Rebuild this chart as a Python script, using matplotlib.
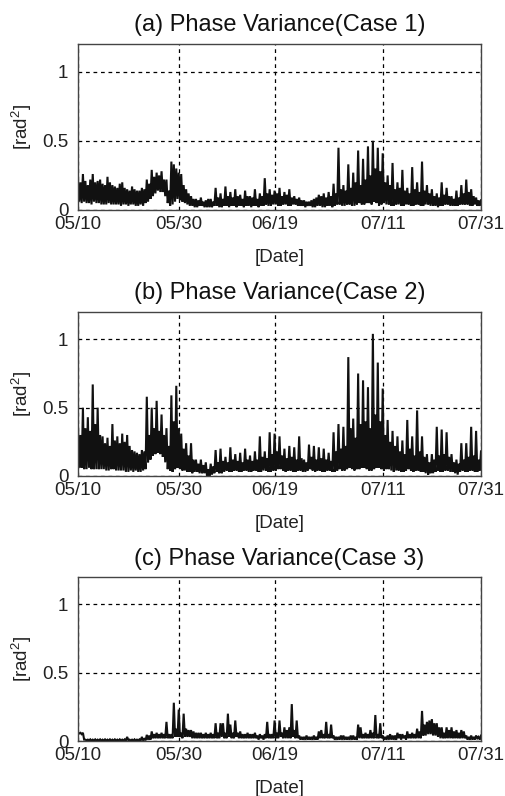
import numpy as np
import matplotlib
matplotlib.use("Agg")
import matplotlib.pyplot as plt

plt.rcParams['font.family'] = ['Liberation Sans', 'DejaVu Sans']
plt.rcParams['mathtext.fontset'] = 'custom'
plt.rcParams['mathtext.rm'] = 'Liberation Sans'
plt.rcParams['mathtext.default'] = 'regular'

# ---- data (phase variance, rad^2), sampled every 0.25 day from 05/10 ----
step_days = 0.25

case1 = [
    0.22, 0.06, 0.20, 0.05, 0.26, 0.06, 0.21, 0.05,   # day 0-1
    0.18, 0.05, 0.22, 0.04, 0.26, 0.06, 0.20, 0.05,   # 2-3
    0.21, 0.05, 0.22, 0.04, 0.19, 0.04, 0.18, 0.04,   # 4-5
    0.24, 0.05, 0.20, 0.04, 0.18, 0.04, 0.17, 0.04,   # 6-7
    0.16, 0.04, 0.19, 0.03, 0.20, 0.04, 0.16, 0.04,   # 8-9
    0.15, 0.03, 0.14, 0.04, 0.17, 0.04, 0.15, 0.03,   # 10-11
    0.14, 0.03, 0.14, 0.04, 0.16, 0.03, 0.15, 0.05,   # 12-13
    0.22, 0.06, 0.19, 0.08, 0.29, 0.10, 0.24, 0.12,   # 14-15
    0.27, 0.14, 0.25, 0.13, 0.28, 0.13, 0.22, 0.10,   # 16-17
    0.22, 0.05, 0.14, 0.03, 0.35, 0.04, 0.33, 0.06,   # 18-19
    0.30, 0.08, 0.27, 0.07, 0.26, 0.06, 0.18, 0.05,   # 20-21
    0.15, 0.04, 0.12, 0.03, 0.10, 0.03, 0.08, 0.02,   # 22-23
    0.08, 0.02, 0.07, 0.03, 0.09, 0.03, 0.06, 0.02,   # 24-25
    0.07, 0.02, 0.08, 0.02, 0.08, 0.02, 0.06, 0.03,   # 26-27
    0.16, 0.03, 0.09, 0.02, 0.12, 0.02, 0.08, 0.03,   # 28-29
    0.17, 0.03, 0.10, 0.02, 0.13, 0.03, 0.09, 0.03,   # 30-31
    0.15, 0.02, 0.10, 0.03, 0.11, 0.03, 0.08, 0.02,   # 32-33
    0.14, 0.03, 0.10, 0.03, 0.10, 0.02, 0.09, 0.03,   # 34-35
    0.15, 0.03, 0.08, 0.02, 0.12, 0.03, 0.10, 0.03,   # 36-37
    0.23, 0.04, 0.12, 0.03, 0.15, 0.03, 0.11, 0.04,   # 38-39
    0.14, 0.04, 0.12, 0.03, 0.16, 0.03, 0.10, 0.04,   # 40-41
    0.13, 0.04, 0.11, 0.03, 0.15, 0.03, 0.09, 0.04,   # 42-43
    0.10, 0.04, 0.08, 0.03, 0.09, 0.03, 0.07, 0.03,   # 44-45
    0.07, 0.02, 0.06, 0.03, 0.06, 0.03, 0.07, 0.02,   # 46-47
    0.08, 0.02, 0.09, 0.03, 0.11, 0.03, 0.10, 0.02,   # 48-49
    0.12, 0.02, 0.09, 0.03, 0.13, 0.03, 0.10, 0.02,   # 50-51
    0.19, 0.03, 0.12, 0.04, 0.45, 0.04, 0.15, 0.03,   # 52-53
    0.18, 0.03, 0.14, 0.04, 0.33, 0.04, 0.16, 0.03,   # 54-55
    0.27, 0.03, 0.20, 0.04, 0.43, 0.05, 0.18, 0.04,   # 56-57
    0.37, 0.04, 0.22, 0.05, 0.46, 0.05, 0.25, 0.04,   # 58-59
    0.50, 0.06, 0.30, 0.05, 0.45, 0.03, 0.28, 0.04,   # 60-61
    0.41, 0.05, 0.20, 0.04, 0.25, 0.04, 0.18, 0.03,   # 62-63
    0.34, 0.03, 0.15, 0.04, 0.20, 0.04, 0.16, 0.03,   # 64-65
    0.29, 0.03, 0.14, 0.04, 0.16, 0.04, 0.12, 0.03,   # 66-67
    0.31, 0.03, 0.15, 0.04, 0.20, 0.04, 0.13, 0.03,   # 68-69
    0.35, 0.03, 0.14, 0.04, 0.18, 0.04, 0.12, 0.03,   # 70-71
    0.15, 0.03, 0.10, 0.03, 0.12, 0.02, 0.09, 0.03,   # 72-73
    0.20, 0.03, 0.11, 0.04, 0.16, 0.04, 0.10, 0.03,   # 74-75
    0.10, 0.03, 0.08, 0.03, 0.14, 0.03, 0.09, 0.04,   # 76-77
    0.18, 0.04, 0.12, 0.04, 0.22, 0.04, 0.13, 0.03,   # 78-79
    0.15, 0.03, 0.10, 0.04, 0.09, 0.03, 0.07, 0.03,   # 80-81
    0.07,                                             # 82
]

case2 = [
    0.36, 0.06, 0.30, 0.06, 0.50, 0.05, 0.35, 0.05,   # day 0-1
    0.43, 0.06, 0.33, 0.05, 0.67, 0.05, 0.38, 0.05,   # 2-3
    0.50, 0.05, 0.30, 0.05, 0.29, 0.05, 0.24, 0.04,   # 4-5
    0.28, 0.04, 0.22, 0.05, 0.38, 0.05, 0.26, 0.04,   # 6-7
    0.29, 0.04, 0.24, 0.04, 0.31, 0.04, 0.25, 0.03,   # 8-9
    0.30, 0.03, 0.22, 0.04, 0.19, 0.03, 0.18, 0.04,   # 10-11
    0.17, 0.03, 0.16, 0.03, 0.19, 0.04, 0.18, 0.05,   # 12-13
    0.58, 0.10, 0.30, 0.12, 0.50, 0.15, 0.35, 0.16,   # 14-15
    0.55, 0.17, 0.33, 0.16, 0.45, 0.14, 0.30, 0.10,   # 16-17
    0.35, 0.05, 0.22, 0.04, 0.59, 0.03, 0.40, 0.05,   # 18-19
    0.66, 0.06, 0.35, 0.05, 0.31, 0.04, 0.20, 0.04,   # 20-21
    0.24, 0.03, 0.15, 0.03, 0.24, 0.02, 0.12, 0.03,   # 22-23
    0.12, 0.03, 0.09, 0.02, 0.12, 0.02, 0.08, 0.02,   # 24-25
    0.10, 0.00, 0.05, 0.00, 0.09, 0.01, 0.07, 0.02,   # 26-27
    0.19, 0.03, 0.10, 0.02, 0.20, 0.02, 0.11, 0.03,   # 28-29
    0.14, 0.04, 0.10, 0.03, 0.21, 0.03, 0.12, 0.04,   # 30-31
    0.16, 0.04, 0.11, 0.03, 0.17, 0.03, 0.10, 0.04,   # 32-33
    0.20, 0.04, 0.12, 0.03, 0.15, 0.03, 0.11, 0.04,   # 34-35
    0.18, 0.04, 0.12, 0.03, 0.29, 0.03, 0.14, 0.04,   # 36-37
    0.18, 0.04, 0.13, 0.03, 0.32, 0.03, 0.16, 0.04,   # 38-39
    0.31, 0.04, 0.18, 0.05, 0.29, 0.05, 0.15, 0.04,   # 40-41
    0.20, 0.03, 0.13, 0.04, 0.22, 0.04, 0.14, 0.03,   # 42-43
    0.21, 0.03, 0.12, 0.04, 0.29, 0.04, 0.13, 0.03,   # 44-45
    0.12, 0.03, 0.10, 0.04, 0.23, 0.05, 0.14, 0.04,   # 46-47
    0.22, 0.03, 0.12, 0.04, 0.21, 0.04, 0.13, 0.03,   # 48-49
    0.20, 0.03, 0.12, 0.04, 0.17, 0.04, 0.11, 0.03,   # 50-51
    0.32, 0.03, 0.18, 0.04, 0.38, 0.05, 0.20, 0.04,   # 52-53
    0.36, 0.04, 0.22, 0.05, 0.87, 0.06, 0.35, 0.05,   # 54-55
    0.42, 0.04, 0.28, 0.05, 0.75, 0.05, 0.38, 0.06,   # 56-57
    0.70, 0.06, 0.40, 0.05, 0.65, 0.04, 0.35, 0.04,   # 58-59
    1.04, 0.05, 0.45, 0.06, 0.83, 0.06, 0.40, 0.05,   # 60-61
    0.64, 0.04, 0.30, 0.05, 0.41, 0.05, 0.25, 0.04,   # 62-63
    0.33, 0.03, 0.22, 0.04, 0.29, 0.04, 0.18, 0.03,   # 64-65
    0.26, 0.03, 0.16, 0.04, 0.41, 0.05, 0.20, 0.04,   # 66-67
    0.29, 0.03, 0.15, 0.04, 0.48, 0.04, 0.18, 0.03,   # 68-69
    0.29, 0.03, 0.14, 0.02, 0.16, 0.01, 0.10, 0.02,   # 70-71
    0.16, 0.02, 0.12, 0.03, 0.36, 0.04, 0.15, 0.03,   # 72-73
    0.34, 0.03, 0.16, 0.04, 0.32, 0.04, 0.14, 0.03,   # 74-75
    0.16, 0.03, 0.10, 0.02, 0.12, 0.01, 0.09, 0.03,   # 76-77
    0.24, 0.04, 0.12, 0.03, 0.24, 0.03, 0.14, 0.04,   # 78-79
    0.36, 0.04, 0.15, 0.03, 0.33, 0.03, 0.12, 0.04,   # 80-81
    0.18,                                             # 82
]

case3 = [
    0.060, 0.055, 0.060, 0.050, 0.060, 0.010, 0.010, 0.005,   # day 0-1
    0.010, 0.003, 0.012, 0.003, 0.010, 0.003, 0.012, 0.003,   # 2-3
    0.010, 0.003, 0.012, 0.003, 0.010, 0.003, 0.012, 0.003,   # 4-5
    0.010, 0.003, 0.012, 0.003, 0.010, 0.003, 0.012, 0.003,   # 6-7
    0.010, 0.003, 0.012, 0.003, 0.010, 0.003, 0.012, 0.003,   # 8-9
    0.030, 0.005, 0.010, 0.003, 0.010, 0.003, 0.012, 0.003,   # 10-11
    0.010, 0.003, 0.012, 0.003, 0.030, 0.005, 0.015, 0.005,   # 12-13
    0.045, 0.010, 0.040, 0.010, 0.070, 0.020, 0.050, 0.020,   # 14-15
    0.060, 0.020, 0.050, 0.020, 0.060, 0.020, 0.050, 0.020,   # 16-17
    0.140, 0.020, 0.050, 0.020, 0.050, 0.020, 0.280, 0.030,   # 18-19
    0.090, 0.030, 0.230, 0.030, 0.060, 0.020, 0.200, 0.030,   # 20-21
    0.090, 0.030, 0.080, 0.030, 0.080, 0.020, 0.070, 0.020,   # 22-23
    0.060, 0.020, 0.060, 0.020, 0.060, 0.020, 0.050, 0.020,   # 24-25
    0.060, 0.020, 0.050, 0.020, 0.060, 0.020, 0.050, 0.020,   # 26-27
    0.130, 0.020, 0.060, 0.020, 0.130, 0.030, 0.130, 0.020,   # 28-29
    0.060, 0.020, 0.200, 0.030, 0.120, 0.020, 0.060, 0.020,   # 30-31
    0.150, 0.030, 0.060, 0.020, 0.070, 0.020, 0.050, 0.020,   # 32-33
    0.050, 0.020, 0.060, 0.020, 0.050, 0.020, 0.050, 0.020,   # 34-35
    0.060, 0.020, 0.040, 0.010, 0.050, 0.020, 0.040, 0.010,   # 36-37
    0.050, 0.020, 0.140, 0.020, 0.050, 0.020, 0.050, 0.020,   # 38-39
    0.150, 0.020, 0.060, 0.020, 0.150, 0.030, 0.060, 0.020,   # 40-41
    0.100, 0.020, 0.080, 0.020, 0.100, 0.020, 0.270, 0.030,   # 42-43
    0.080, 0.020, 0.150, 0.020, 0.040, 0.010, 0.030, 0.010,   # 44-45
    0.030, 0.010, 0.040, 0.010, 0.030, 0.010, 0.030, 0.010,   # 46-47
    0.040, 0.010, 0.030, 0.010, 0.070, 0.020, 0.080, 0.020,   # 48-49
    0.050, 0.020, 0.140, 0.020, 0.050, 0.020, 0.120, 0.020,   # 50-51
    0.040, 0.010, 0.030, 0.010, 0.030, 0.010, 0.040, 0.010,   # 52-53
    0.040, 0.010, 0.030, 0.010, 0.030, 0.010, 0.040, 0.010,   # 54-55
    0.040, 0.010, 0.030, 0.010, 0.120, 0.020, 0.100, 0.020,   # 56-57
    0.050, 0.020, 0.060, 0.020, 0.050, 0.020, 0.080, 0.020,   # 58-59
    0.060, 0.020, 0.190, 0.020, 0.050, 0.020, 0.130, 0.020,   # 60-61
    0.040, 0.010, 0.030, 0.010, 0.040, 0.010, 0.050, 0.010,   # 62-63
    0.040, 0.010, 0.040, 0.010, 0.060, 0.020, 0.050, 0.010,   # 64-65
    0.050, 0.020, 0.040, 0.010, 0.070, 0.020, 0.050, 0.020,   # 66-67
    0.060, 0.020, 0.050, 0.020, 0.090, 0.020, 0.070, 0.020,   # 68-69
    0.220, 0.040, 0.120, 0.040, 0.140, 0.050, 0.150, 0.050,   # 70-71
    0.160, 0.040, 0.130, 0.040, 0.130, 0.030, 0.100, 0.020,   # 72-73
    0.100, 0.020, 0.060, 0.020, 0.100, 0.020, 0.080, 0.020,   # 74-75
    0.100, 0.020, 0.070, 0.020, 0.080, 0.020, 0.060, 0.020,   # 76-77
    0.080, 0.020, 0.070, 0.020, 0.040, 0.010, 0.030, 0.010,   # 78-79
    0.040, 0.010, 0.030, 0.010, 0.040, 0.020, 0.030, 0.010,   # 80-81
    0.040,                                                    # 82
]

titles = ["(a) Phase Variance(Case 1)",
          "(b) Phase Variance(Case 2)",
          "(c) Phase Variance(Case 3)"]
tick_days = [0, 20.5, 40, 62, 82]
tick_labels = ["05/10", "05/30", "06/19", "07/11", "07/31"]
ytick_vals = [0, 0.5, 1]
ytick_labels = ["0", "0.5", "1"]
series = [case1, case2, case3]

fig = plt.figure(figsize=(5.06, 7.96), dpi=100)
W = 506.0
H = 796.0
left_px, right_px = 78, 481
tops = [44, 312, 577]
bottoms = [210, 476, 741]

for i, vals in enumerate(series):
    v = np.asarray(vals, dtype=float)
    t = np.arange(len(v)) * step_days
    ax = fig.add_axes([left_px / W, 1 - bottoms[i] / H,
                       (right_px - left_px) / W, (bottoms[i] - tops[i]) / H])
    ax.plot(t, v, color='#111111', lw=1.5, solid_joinstyle='miter')
    ax.set_xlim(0, 82)
    ax.set_ylim(0, 1.2)
    ax.set_xticks(tick_days)
    ax.set_xticklabels(tick_labels)
    ax.set_yticks(ytick_vals)
    ax.set_yticklabels(ytick_labels)
    ax.grid(True, color='black', lw=0.9, linestyle=(0, (3, 3)))
    ax.tick_params(direction='in', length=0, labelsize=13.5, pad=4,
                   colors='#222222')
    ax.tick_params(axis='y', pad=7)
    for s in ax.spines.values():
        s.set_color('#444444')
        s.set_linewidth(1.0)
    ax.set_title(titles[i], fontsize=17, pad=9, color='#111111')
    ax.set_xlabel("[Date]", fontsize=13.5, labelpad=12, color='#222222')
    ax.set_ylabel(r"[rad$^2$]", fontsize=13.5, labelpad=6, color='#222222')

fig.savefig("out.png", dpi=100)
